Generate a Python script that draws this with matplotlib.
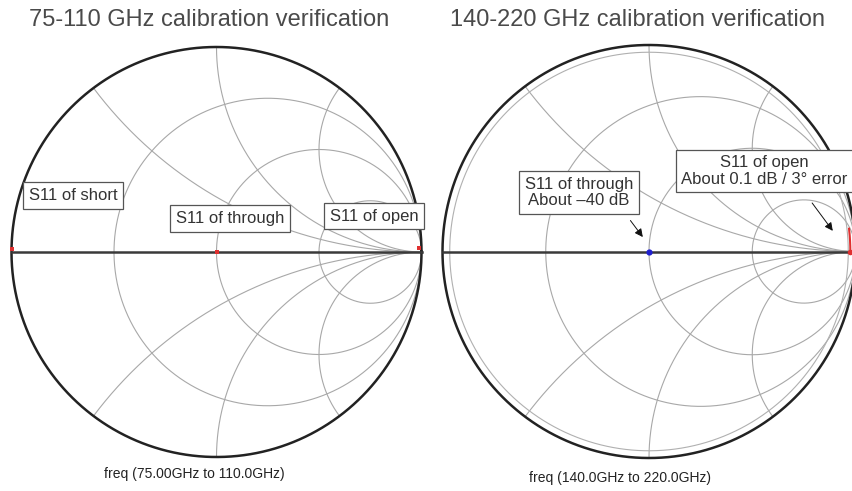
import numpy as np
import matplotlib
matplotlib.use("Agg")
import matplotlib.pyplot as plt

plt.rcParams['font.family'] = ['Liberation Sans', 'DejaVu Sans']

# chart text
titles = ["75-110 GHz calibration verification", "140-220 GHz calibration verification"]
freq_labels = ["freq (75.00GHz to 110.0GHz)", "freq (140.0GHz to 220.0GHz)"]

# smith grid values
r_grid = [1/3, 1.0, 3.0]
x_grid = [0.5, 1.0, 2.0]

# left chart: measured S11 points (real, imag)
left_re = [-1.0, 0.0, 0.99]
left_im = [0.015, 0.0, 0.02]
left_labels = ["S11 of short", "S11 of through", "S11 of open"]
left_label_xy = [(-0.70, 0.275), (0.065, 0.165), (0.77, 0.175)]

# right chart: through point and open trace
thru_re, thru_im = 0.0, 0.0
open_mag = 0.975
open_phase_deg = [0.0, 1.5, 3.0, 4.5, 6.5]
right_labels = ["S11 of through\nAbout \u201340 dB", "S11 of open\nAbout 0.1 dB / 3\u00b0 error"]
right_label_xy = [(-0.34, 0.285), (0.56, 0.39)]
right_arrow_tail = [(-0.09, 0.15), (0.79, 0.235)]
right_arrow_head = [(-0.03, 0.07), (0.89, 0.10)]

W, H = 852, 491
fig = plt.figure(figsize=(W / 100, H / 100), dpi=100)


def make_ax(cx, cy, rad):
    ax = fig.add_axes([(cx - rad) / W, (H - cy - rad) / H, 2 * rad / W, 2 * rad / H])
    ax.set_xlim(-1, 1)
    ax.set_ylim(-1, 1)
    ax.axis('off')
    return ax


def draw_smith(ax, inner=False):
    for r in r_grid:
        z = r + 1j * np.concatenate([-np.logspace(4, -3, 2000), np.logspace(-3, 4, 2000)])
        g = (z - 1) / (z + 1)
        ax.plot(g.real, g.imag, color='#a8a8a8', lw=0.8, clip_on=False)
    for x in x_grid:
        for s in (1, -1):
            z = np.logspace(-4, 4, 3000) + 1j * s * x
            z = np.concatenate([[1j * s * x], z])
            g = (z - 1) / (z + 1)
            ax.plot(g.real, g.imag, color='#a8a8a8', lw=0.8, clip_on=False)
    th = np.linspace(0, 2 * np.pi, 600)
    if inner:
        ax.plot(0.965 * np.cos(th), 0.965 * np.sin(th), color='#b0b0b0', lw=0.8, clip_on=False)
    ax.plot(np.cos(th), np.sin(th), color='#222222', lw=1.8, clip_on=False)
    ax.plot([-1, 1], [0, 0], color='#3a3a3a', lw=1.8, clip_on=False)


box = dict(boxstyle='square,pad=0.35', fc='white', ec='#555555', lw=0.9)

# left chart
ax1 = make_ax(216.5, 252, 205)
draw_smith(ax1)
ax1.plot(left_re, left_im, 's', color='#e03030', ms=2.5, mew=0, clip_on=False)
for lab, (tx, ty) in zip(left_labels, left_label_xy):
    ax1.text(tx, ty, lab, ha='center', va='center', fontsize=12, color='#333333', bbox=box)

# right chart
ax2 = make_ax(649, 251.5, 206.5)
draw_smith(ax2, inner=True)
ph = np.deg2rad(open_phase_deg)
ax2.plot(open_mag * np.cos(ph), open_mag * np.sin(ph), color='#e03030', lw=1.5, clip_on=False)
ax2.plot([open_mag], [0], 'o', color='#e03030', ms=4, mew=0, clip_on=False)
ax2.plot([thru_re], [thru_im], 'o', color='#2020d0', ms=4.5, mew=0, clip_on=False)
for lab, (tx, ty) in zip(right_labels, right_label_xy):
    ax2.text(tx, ty, lab, ha='center', va='center', fontsize=12, color='#333333',
             bbox=box, linespacing=1.1)
for tail, head in zip(right_arrow_tail, right_arrow_head):
    ax2.annotate('', xy=head, xytext=tail,
                 arrowprops=dict(arrowstyle='-|>', color='#111111', lw=0.7,
                                 mutation_scale=12, shrinkA=0, shrinkB=0))

# titles and frequency labels
fig.text(209 / W, 1 - 20 / H, titles[0], ha='center', va='center', fontsize=17, color='#4a4a4a')
fig.text(637 / W, 1 - 20 / H, titles[1], ha='center', va='center', fontsize=17, color='#4a4a4a')
fig.text(194 / W, 1 - 474 / H, freq_labels[0], ha='center', va='center', fontsize=10, color='#222222')
fig.text(620 / W, 1 - 478 / H, freq_labels[1], ha='center', va='center', fontsize=10, color='#222222')

fig.savefig('out.png', dpi=100, facecolor='white')
